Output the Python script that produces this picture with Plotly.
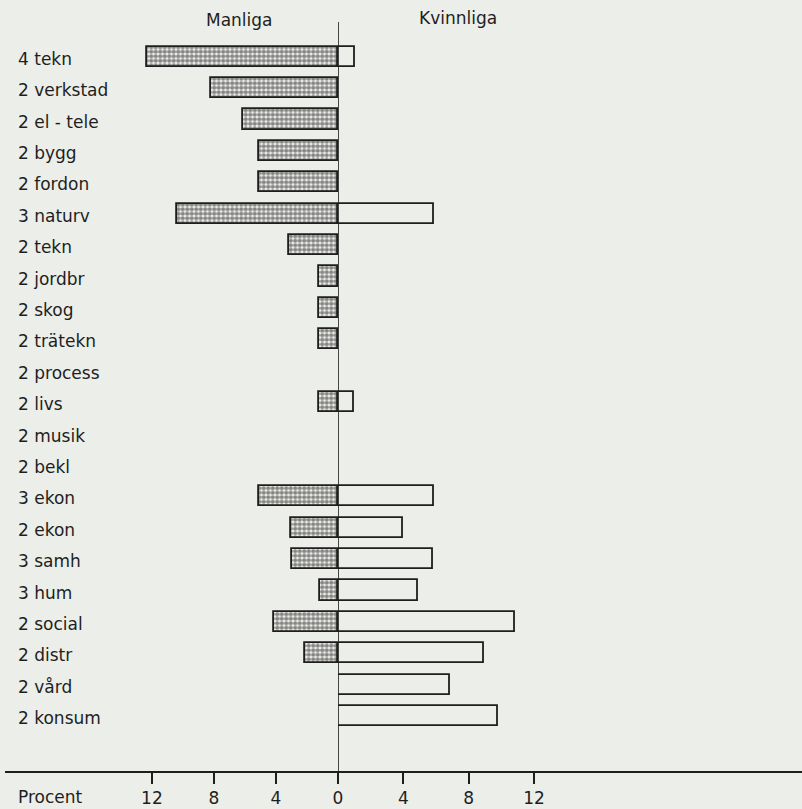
import plotly.graph_objects as go

# linjer, uppifrån och ned
linjer = ["4 tekn", "2 verkstad", "2 el - tele", "2 bygg", "2 fordon", "3 naturv",
          "2 tekn", "2 jordbr", "2 skog", "2 trätekn", "2 process", "2 livs",
          "2 musik", "2 bekl", "3 ekon", "2 ekon", "3 samh", "3 hum",
          "2 social", "2 distr", "2 vård", "2 konsum"]

# procent av eleverna (None = ingen stapel)
manliga = [12.3, 8.2, 6.1, 5.1, 5.1, 10.4, 3.15, 1.25, 1.25, 1.25, None, 1.2,
           None, None, 5.1, 3.0, 2.95, 1.15, 4.1, 2.15, None, None]
kvinnliga = [1.05, None, None, None, None, 5.88, None, None, None, None, None, 0.97,
             None, None, 5.88, 4.0, 5.84, 4.92, 10.84, 8.94, 6.85, 9.79]

ticks_left = [4, 8, 12]
ticks_right = [0, 4, 8, 12]

W, H = 802, 809
BG = "#eceee9"
INK = "#1e1e1e"
FONT = "DejaVu Sans"

def px_x(p):
    return p / W

def px_y(p):
    return 1 - p / H

zero_px = 335
axis_px = 772
row0_px, row_step = 56.7, 31.4
left_scale, right_scale = 15.6, 16.45   # pixlar per procentenhet

fig = go.Figure()

fig.add_trace(go.Bar(
    y=linjer, x=manliga, orientation="h", xaxis="x", yaxis="y",
    width=0.64, name="Manliga",
    marker=dict(color="#f3f3f0",
                line=dict(color=INK, width=1.8),
                pattern=dict(shape=".", size=4.5, solidity=0.7,
                             fgcolor="#1a1a1a", bgcolor="#f3f3f0")),
))
fig.add_trace(go.Bar(
    y=linjer, x=kvinnliga, orientation="h", xaxis="x2", yaxis="y",
    width=0.64, name="Kvinnliga",
    marker=dict(color="rgba(0,0,0,0)", line=dict(color=INK, width=1.8)),
))

n = len(linjer)
y_top = 0 - row0_px / row_step
y_bot = (n - 1) + (H - (row0_px + row_step * (n - 1))) / row_step

tickfont = dict(family=FONT, size=17, color=INK)
fig.update_layout(
    width=W, height=H,
    margin=dict(l=0, r=0, t=0, b=0),
    paper_bgcolor=BG, plot_bgcolor=BG,
    showlegend=False,
    bargap=0,
    xaxis=dict(domain=[0, px_x(zero_px)], range=[zero_px / left_scale, 0],
               anchor="free", position=px_y(axis_px),
               tickvals=ticks_left, ticks="outside", ticklen=11, tickwidth=1.6,
               tickcolor=INK, showline=True, linecolor=INK, linewidth=1.8,
               showgrid=False, zeroline=False, tickfont=tickfont),
    xaxis2=dict(domain=[px_x(zero_px), 1], range=[0, (W - zero_px) / right_scale],
                anchor="free", position=px_y(axis_px),
                tickvals=ticks_right, ticks="outside", ticklen=11, tickwidth=1.6,
                tickcolor=INK, showline=True, linecolor=INK, linewidth=1.8,
                showgrid=False, zeroline=False, tickfont=tickfont),
    yaxis=dict(domain=[0, 1], anchor="x", type="category",
               categoryorder="array", categoryarray=linjer,
               range=[y_bot, y_top], showticklabels=False, ticks="",
               showgrid=False, zeroline=False, showline=False),
)

# nollinjen
fig.add_shape(type="line", xref="x2", yref="paper", x0=0, x1=0,
              y0=px_y(axis_px), y1=px_y(22), line=dict(color=INK, width=1.8))

# radetiketter
for lab in linjer:
    fig.add_annotation(x=px_x(11), xref="paper", y=lab, yref="y", text=lab,
                       xanchor="left", yanchor="middle", showarrow=False, yshift=-2,
                       font=dict(family=FONT, size=17, color=INK))

fig.add_annotation(x=px_x(236), y=px_y(20), xref="paper", yref="paper",
                   text="Manliga", showarrow=False, xanchor="center", yanchor="middle",
                   font=dict(family=FONT, size=17, color=INK))
fig.add_annotation(x=px_x(456), y=px_y(18), xref="paper", yref="paper",
                   text="Kvinnliga", showarrow=False, xanchor="center", yanchor="middle",
                   font=dict(family=FONT, size=17, color=INK))
fig.add_annotation(x=px_x(11), y=px_y(797), xref="paper", yref="paper",
                   text="Procent", showarrow=False, xanchor="left", yanchor="middle",
                   font=dict(family=FONT, size=17, color=INK))

fig.write_html("out.html", config={"displayModeBar": False},
               post_script="document.body.style.margin='0';"
                           "document.body.style.overflow='hidden';")
